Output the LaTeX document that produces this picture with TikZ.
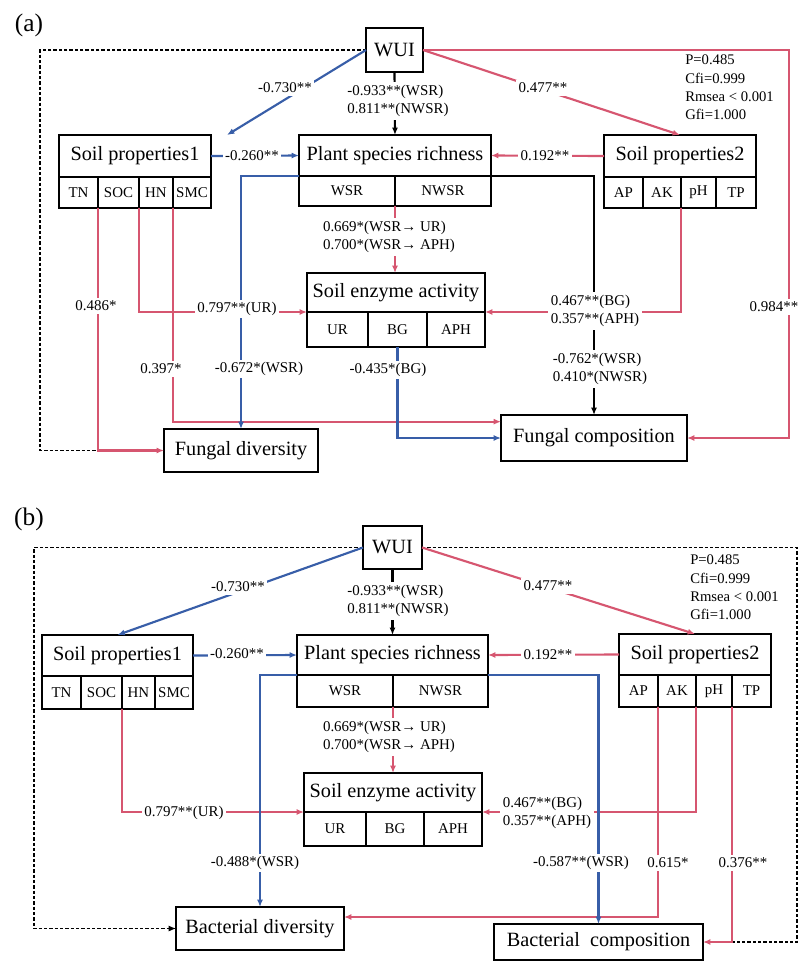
\documentclass[tikz,border=0pt]{standalone}
\usepackage{fontspec}
\setmainfont{Liberation Serif}
\usetikzlibrary{arrows.meta,positioning}
\definecolor{pathred}{RGB}{214,86,112}
\definecolor{pathblue}{RGB}{56,94,168}
\tikzset{
  box/.style={draw, line width=1.1pt, inner sep=0pt, outer sep=0pt, font=\fontsize{15.2}{18}\selectfont},
  cell/.style={draw, line width=1.1pt, inner sep=0pt, outer sep=0pt, font=\fontsize{11.2}{13}\selectfont},
  sz/.style 2 args={minimum width=#1*0.75pt, minimum height=#2*0.75pt},
  lbl/.style={fill=white, inner sep=2pt, align=left, font=\fontsize{11.2}{13.9}\selectfont},
  gof/.style={inner sep=0pt, align=left, anchor=west, font=\fontsize{11}{13.7}\selectfont},
  redpath/.style={draw=pathred, line width=1.6pt},
  bluepath/.style={draw=pathblue, line width=1.6pt},
  blackpath/.style={draw=black, line width=1.6pt},
  dashpath/.style={draw=black, line width=0.8pt, dash pattern=on 2.5pt off 1.5pt},
  tip/.style={-{Latex[length=5.5pt,width=4.5pt]}}
}
\begin{document}
\begin{tikzpicture}[x=0.75pt,y=-0.75pt]
  \useasboundingbox (0,0) rectangle (798,961);
  % ---------------- panel (a) ----------------
  \node (tagA) at (29,25) {\fontsize{19}{22}\selectfont (a)};
  \node[box, sz={57}{44}] (wuiA) at (394.5,50) {WUI};
  % soil properties 1
  \node[box, sz={152}{42}] (sp1A) at (135,156) {Soil properties1};
  \node[cell, sz={39}{31}, anchor=north west] (tnA) at (sp1A.south west) {TN};
  \node[cell, sz={41}{31}, right=0pt of tnA] (socA) {SOC};
  \node[cell, sz={34}{31}, right=0pt of socA] (hnA) {HN};
  \node[cell, sz={38}{31}, right=0pt of hnA] (smcA) {SMC};
  % plant species richness
  \node[box, sz={192}{41}] (psrA) at (395,155.5) {Plant species richness};
  \node[cell, sz={96}{30}, anchor=north west] (wsrA) at (psrA.south west) {WSR};
  \node[cell, sz={96}{30}, right=0pt of wsrA] (nwsrA) {NWSR};
  % soil properties 2
  \node[box, sz={152}{42}] (sp2A) at (680,156) {Soil properties2};
  \node[cell, sz={39}{31}, anchor=north west] (apA) at (sp2A.south west) {AP};
  \node[cell, sz={38}{31}, right=0pt of apA] (akA) {AK};
  \node[cell, sz={35}{31}, right=0pt of akA] (phA) {pH};
  \node[cell, sz={40}{31}, right=0pt of phA] (tpA) {TP};
  % soil enzyme activity
  \node[box, sz={178}{39}] (seaA) at (396,292.5) {Soil enzyme activity};
  \node[cell, sz={61}{35}, anchor=north west] (urA) at (seaA.south west) {UR};
  \node[cell, sz={59}{35}, right=0pt of urA] (bgA) {BG};
  \node[cell, sz={58}{35}, right=0pt of bgA] (aphA) {APH};
  % responses
  \node[box, sz={154}{43}] (fdA) at (241,450.5) {Fungal diversity};
  \node[box, sz={186}{46}] (fcA) at (594,438) {Fungal composition};
  \coordinate (cornerA) at (40,0);
  \coordinate (rightA) at (789,0);
  % paths
  \draw[dashpath] (wuiA.west) -| (cornerA |- fdA.west) -- (tnA.south east |- fdA.west);
  \draw[blackpath, tip] (wuiA.south) -- (psrA.north);
  \draw[blackpath, tip] (psrA.south east) -| (fcA.north);
  \draw[redpath, tip] (sp2A.west) -- (psrA.east);
  \draw[redpath, tip] (wuiA.east) -- (sp2A.north);
  \draw[redpath, tip] (wuiA.east) -| (rightA |- fcA.east) -- (fcA.east);
  \draw[redpath, tip] (wsrA.south east) -- (wsrA.south east |- seaA.north);
  \draw[redpath, tip] (akA.south east) |- (seaA.south east);
  \draw[redpath, tip] (socA.south east) |- (seaA.south west);
  \draw[redpath, tip] (tnA.south east) |- (fdA.west);
  \draw[redpath, tip] (hnA.south east) |- ([yshift=-5pt]fcA.north west);
  \draw[bluepath, tip] (wuiA.west) -- ([xshift=12pt]sp1A.north east);
  \draw[bluepath, tip] (sp1A.east) -- (psrA.west);
  \draw[bluepath, tip] (psrA.south west) -| (fdA.north);
  \draw[bluepath, tip] (bgA.south) |- (fcA.west);
  % coefficients
  \node[lbl] (l730A) at (285,88) {-0.730**};
  \node[lbl] (l933A) at (398,101) {-0.933**(WSR)\\0.811**(NWSR)};
  \node[lbl] (l477A) at (543,88) {0.477**};
  \node[lbl] (l260A) at (252,156) {-0.260**};
  \node[lbl] (l192A) at (545,156) {0.192**};
  \node[lbl] (l984A) at (774,307) {0.984**};
  \node[lbl] (l669A) at (389,237) {0.669*(WSR→ UR)\\0.700*(WSR→ APH)};
  \node[lbl] (l797A) at (237,309) {0.797**(UR)};
  \node[lbl] (l467A) at (595,311) {0.467**(BG)\\0.357**(APH)};
  \node[lbl] (l486A) at (96,306) {0.486*};
  \node[lbl] (l397A) at (161,369) {0.397*};
  \node[lbl] (l672A) at (259,369) {-0.672*(WSR)};
  \node[lbl] (l435A) at (388,370) {-0.435*(BG)};
  \node[lbl] (l762A) at (600,369) {-0.762*(WSR)\\0.410*(NWSR)};
  \node[gof] (gofA) at (685,87.5) {P=0.485\\Cfi=0.999\\Rmsea < 0.001\\Gfi=1.000};
  % ---------------- panel (b) ----------------
  \node (tagB) at (29,519) {\fontsize{19}{22}\selectfont (b)};
  \node[box, sz={59}{43}] (wuiB) at (392.5,547.5) {WUI};
  % soil properties 1
  \node[box, sz={151}{41}] (sp1B) at (117.5,655.5) {Soil properties1};
  \node[cell, sz={39}{33}, anchor=north west] (tnB) at (sp1B.south west) {TN};
  \node[cell, sz={41}{33}, right=0pt of tnB] (socB) {SOC};
  \node[cell, sz={33}{33}, right=0pt of socB] (hnB) {HN};
  \node[cell, sz={38}{33}, right=0pt of hnB] (smcB) {SMC};
  % plant species richness
  \node[box, sz={191}{40}] (psrB) at (392.5,655) {Plant species richness};
  \node[cell, sz={96}{32}, anchor=north west] (wsrB) at (psrB.south west) {WSR};
  \node[cell, sz={95}{32}, right=0pt of wsrB] (nwsrB) {NWSR};
  % soil properties 2
  \node[box, sz={152}{41}] (sp2B) at (695,654.5) {Soil properties2};
  \node[cell, sz={39}{32}, anchor=north west] (apB) at (sp2B.south west) {AP};
  \node[cell, sz={38}{32}, right=0pt of apB] (akB) {AK};
  \node[cell, sz={36}{32}, right=0pt of akB] (phB) {pH};
  \node[cell, sz={39}{32}, right=0pt of phB] (tpB) {TP};
  % soil enzyme activity
  \node[box, sz={178}{39}] (seaB) at (393,792.5) {Soil enzyme activity};
  \node[cell, sz={62}{34}, anchor=north west] (urB) at (seaB.south west) {UR};
  \node[cell, sz={58}{34}, right=0pt of urB] (bgB) {BG};
  \node[cell, sz={58}{34}, right=0pt of bgB] (aphB) {APH};
  % responses
  \node[box, sz={168}{43}] (bdB) at (260,928.5) {Bacterial diversity};
  \node[box, sz={209}{36}] (bcB) at (598.5,942) {Bacterial\ \ composition};
  \coordinate (cornerB) at (34,0);
  \coordinate (rightB) at (797,0);
  % paths
  \draw[dashpath, tip] (wuiB.west) -| (cornerB |- bdB.west) -- (bdB.west);
  \draw[dashpath] (wuiB.east) -| (rightB |- bcB.east) -- (phB.south east |- bcB.east);
  \draw[blackpath, tip] (wuiB.south) -- (psrB.north);
  \draw[redpath, tip] (sp2B.west) -- (psrB.east);
  \draw[redpath, tip] (wuiB.east) -- (sp2B.north);
  \draw[redpath, tip] (wsrB.south east) -- (wsrB.south east |- seaB.north);
  \draw[redpath, tip] (socB.south east) |- (seaB.south west);
  \draw[redpath, tip] (akB.south east) |- (seaB.south east);
  \draw[redpath, tip] (apB.south east) |- ([yshift=-7.5pt]bdB.north east);
  \draw[redpath, tip] (phB.south east) |- (bcB.east);
  \draw[bluepath, tip] (wuiB.west) -- (sp1B.north);
  \draw[bluepath, tip] (sp1B.east) -- (psrB.west);
  \draw[bluepath, tip] (psrB.south west) -| (bdB.north);
  \draw[bluepath, tip] (psrB.south east) -| (bcB.north);
  % coefficients
  \node[lbl] (l730B) at (238,587) {-0.730**};
  \node[lbl] (l933B) at (398,601) {-0.933**(WSR)\\0.811**(NWSR)};
  \node[lbl] (l477B) at (548,586) {0.477**};
  \node[lbl] (l260B) at (237,654) {-0.260**};
  \node[lbl] (l192B) at (548,655) {0.192**};
  \node[lbl] (l669B) at (389,737) {0.669*(WSR→ UR)\\0.700*(WSR→ APH)};
  \node[lbl] (l797B) at (184,813) {0.797**(UR)};
  \node[lbl] (l467B) at (547,813) {0.467**(BG)\\0.357**(APH)};
  \node[lbl] (l488B) at (255,863) {-0.488*(WSR)};
  \node[lbl] (l587B) at (581,863) {-0.587**(WSR)};
  \node[lbl] (l615B) at (668,863) {0.615*};
  \node[lbl] (l376B) at (743,863) {0.376**};
  \node[gof] (gofB) at (690,587.5) {P=0.485\\Cfi=0.999\\Rmsea < 0.001\\Gfi=1.000};
\end{tikzpicture}
\end{document}
